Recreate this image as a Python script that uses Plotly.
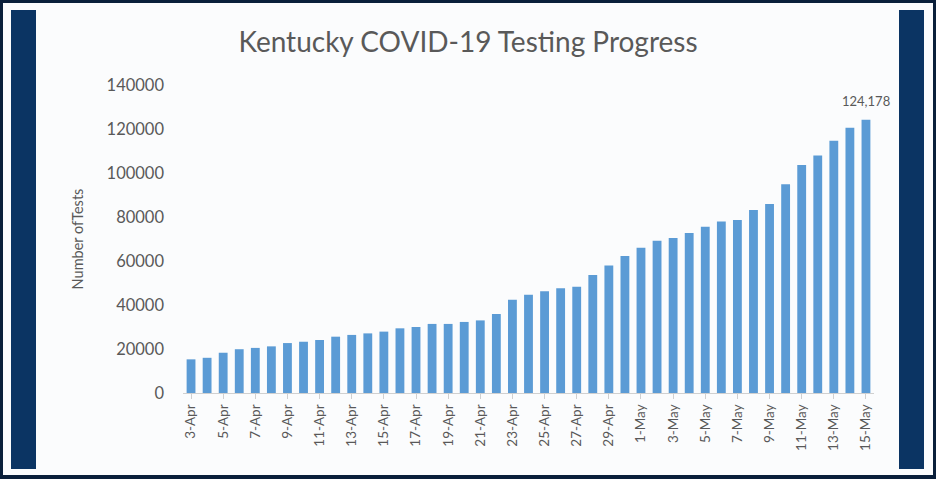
import plotly.graph_objects as go

dates = ["3-Apr", "4-Apr", "5-Apr", "6-Apr", "7-Apr", "8-Apr", "9-Apr", "10-Apr",
         "11-Apr", "12-Apr", "13-Apr", "14-Apr", "15-Apr", "16-Apr", "17-Apr",
         "18-Apr", "19-Apr", "20-Apr", "21-Apr", "22-Apr", "23-Apr", "24-Apr",
         "25-Apr", "26-Apr", "27-Apr", "28-Apr", "29-Apr", "30-Apr", "1-May",
         "2-May", "3-May", "4-May", "5-May", "6-May", "7-May", "8-May", "9-May",
         "10-May", "11-May", "12-May", "13-May", "14-May", "15-May"]
tests = [15300, 16000, 18300, 19900, 20500, 21200, 22700, 23300, 24100, 25600,
         26400, 27100, 27900, 29400, 30000, 31400, 31400, 32300, 33000, 35900,
         42400, 44700, 46200, 47600, 48300, 53600, 57900, 62300, 66000, 69200,
         70500, 72700, 75600, 77900, 78600, 83200, 85900, 94900, 103600, 108000,
         114700, 120600, 124178]
y_ticks = [0, 20000, 40000, 60000, 80000, 100000, 120000, 140000]
label_text = "124,178"

navy = "#0b3463"
grey = "#595959"
font = "Lato"

W, H = 936, 479
pl, pr, pt, pb = 183, 62, 85, 86
pw, ph = W - pl - pr, H - pt - pb

fig = go.Figure()
fig.add_trace(go.Bar(x=dates, y=tests, marker=dict(color="#5b9bd5", line=dict(width=0)),
                     showlegend=False))
fig.add_annotation(x=dates[-1], y=tests[-1], text=label_text, showarrow=False,
                   yshift=19, font=dict(family=font, size=13, color=grey))

fig.update_layout(
    width=W, height=H,
    margin=dict(l=pl, r=pr, t=pt, b=pb, autoexpand=False),
    paper_bgcolor="#fbfcfd", plot_bgcolor="#fbfcfd",
    bargap=0.45,
    title=dict(text="Kentucky COVID-19 Testing Progress", x=0.5, xanchor="center",
               y=0.912, yanchor="middle",
               font=dict(family=font, size=28, color=grey)),
    xaxis=dict(type="category", tickmode="array", tickvals=dates[::2],
               categoryorder="array", categoryarray=dates,
               range=[-0.5, len(dates) - 0.5], autorange=False,
               tickangle=-90, tickfont=dict(family=font, size=13.5, color=grey),
               showline=True, linecolor="#d0d0d0", linewidth=1,
               ticks="outside", ticklen=5, tickcolor="#d0d0d0",
               showgrid=False, automargin=False),
    yaxis=dict(range=[0, 140000], tickmode="array", tickvals=y_ticks,
               ticktext=[str(v) for v in y_ticks],
               tickfont=dict(family=font, size=16.5, color=grey),
               ticklabelstandoff=18,
               showgrid=False, zeroline=False, showline=False, ticklen=0,
               ticks="", automargin=False,
               title=dict(text="Number ofTests", standoff=19,
                          font=dict(family=font, size=14.5, color=grey))),
)


def px_x(x):
    return (x - pl) / pw


def px_y(y):
    return (H - pb - y) / ph


shapes = []
# outer border
for (x0, y0, x1, y1) in [(0, 0, 936, 3), (0, 475, 936, 479), (0, 0, 3, 479), (933, 0, 936, 479)]:
    shapes.append(dict(type="rect", xref="paper", yref="paper",
                       x0=px_x(x0), x1=px_x(x1), y0=px_y(y1), y1=px_y(y0),
                       fillcolor="#0a1f3a", line=dict(width=0), layer="above"))
# side bands
for (x0, y0, x1, y1) in [(11, 10, 36, 469), (899, 10, 924, 469)]:
    shapes.append(dict(type="rect", xref="paper", yref="paper",
                       x0=px_x(x0), x1=px_x(x1), y0=px_y(y1), y1=px_y(y0),
                       fillcolor=navy, line=dict(width=0), layer="above"))
fig.update_layout(shapes=shapes)

fig.write_html("out.html")
